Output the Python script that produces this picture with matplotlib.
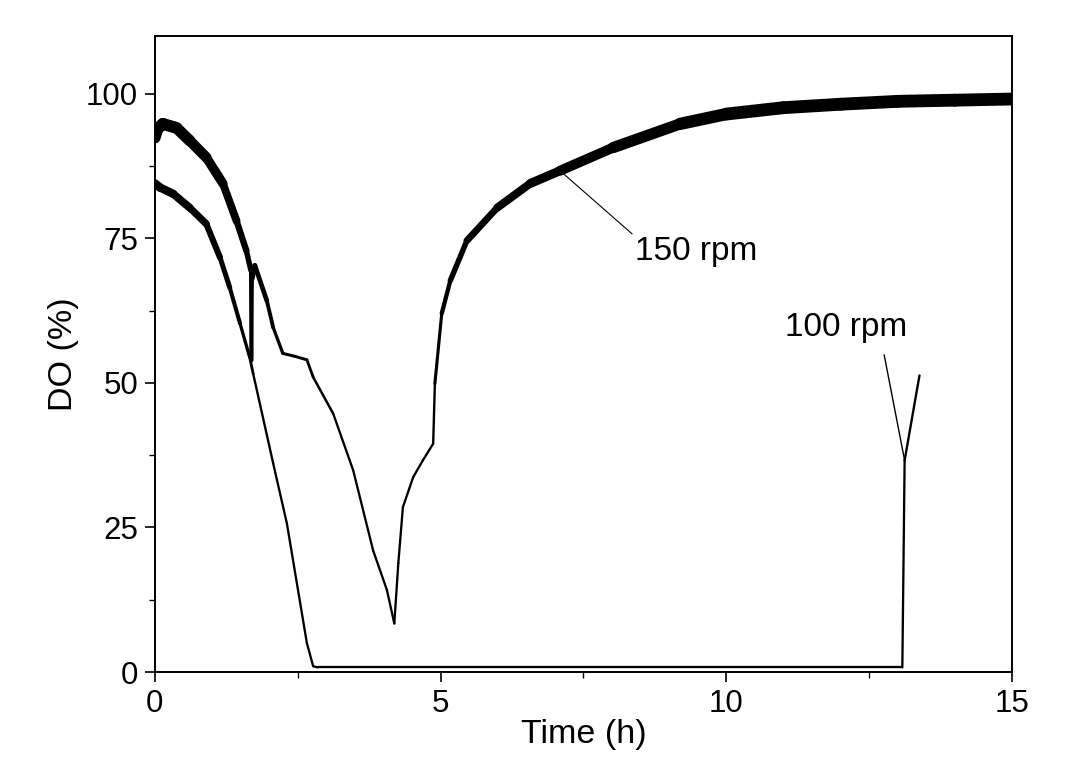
import matplotlib
matplotlib.use('Agg')
import matplotlib.pyplot as plt
import numpy as np
from matplotlib.collections import LineCollection
from matplotlib.ticker import MultipleLocator

# Curva 150 rpm
t_150 = [0.0, 0.05, 0.14, 0.38, 0.61, 0.9, 1.19, 1.43, 1.6, 1.68, 1.69, 1.70, 1.75,
         1.96, 2.07, 2.24, 2.45, 2.66, 2.77, 3.12, 3.47, 3.82, 4.06, 4.19, 4.26,
         4.34, 4.52, 4.69, 4.87, 4.9, 5.02, 5.17, 5.46, 5.99, 6.57, 7.09, 8.02,
         9.19, 10.0, 11.0, 12.0, 13.0, 14.0, 15.0]
do_150 = [92.4, 94.0, 94.8, 94.1, 91.9, 89.0, 84.5, 78.0, 72.9, 69.5, 53.9, 68.0, 70.3,
          64.2, 59.6, 55.1, 54.6, 54.0, 51.0, 44.7, 34.9, 21.0, 14.2, 8.4, 18.8,
          28.5, 33.7, 36.6, 39.5, 49.9, 62.0, 67.7, 74.6, 80.3, 84.5, 86.7, 90.7,
          94.8, 96.5, 97.6, 98.2, 98.7, 98.9, 99.1]

# Curva 100 rpm
t_100 = [0.0, 0.09, 0.32, 0.61, 0.9, 1.14, 1.31, 1.49, 1.66, 1.72, 2.07, 2.31,
         2.66, 2.77, 2.85, 3.0, 13.08, 13.12, 13.38]
do_100 = [84.5, 83.8, 82.7, 80.3, 77.5, 71.7, 66.5, 60.3, 54.4, 51.6, 36.1, 25.7,
          5.0, 1.0, 0.8, 0.8, 0.8, 36.6, 51.3]

plt.rcParams['font.family'] = ['Liberation Sans', 'DejaVu Sans']


def banda(t, y):
    # o ruído do sensor engrossa a linha quando o OD é alto
    pts = np.column_stack([t, y])
    seg = np.stack([pts[:-1], pts[1:]], axis=1)
    y = np.asarray(y)
    ym = (y[:-1] + y[1:]) / 2
    larg = 2.3 + 10.5 * np.clip((ym - 40) / 57, 0, 1) ** 2  # em pixels
    return LineCollection(seg, linewidths=larg * 72 / 100, colors='black',
                          capstyle='round', joinstyle='round')


fig = plt.figure(figsize=(10.83, 7.66), dpi=100)
ax = fig.add_axes([0.143, 0.1227, 0.7915, 0.8303])

ax.add_collection(banda(t_150, do_150))
ax.add_collection(banda(t_100, do_100))

ax.set_xlim(0, 15)
ax.set_ylim(0, 110)
ax.xaxis.set_major_locator(MultipleLocator(5))
ax.xaxis.set_minor_locator(MultipleLocator(2.5))
ax.yaxis.set_major_locator(MultipleLocator(25))
ax.yaxis.set_minor_locator(MultipleLocator(12.5))
ax.tick_params(which='major', direction='out', length=7, width=1.2, labelsize=22.5, pad=5)
ax.tick_params(which='minor', direction='out', length=4, width=1.0)
for s in ax.spines.values():
    s.set_linewidth(1.4)

ax.set_xlabel('Time (h)', fontsize=24.5, labelpad=0)
ax.set_ylabel('DO (%)', fontsize=24.5, labelpad=5)

i150 = t_150.index(7.09)
ax.annotate('150 rpm', xy=(t_150[i150], do_150[i150]), xytext=(8.4, 71.2),
            fontsize=24, ha='left', va='baseline',
            arrowprops=dict(arrowstyle='-', color='black', lw=0.8,
                            relpos=(0, 1), shrinkA=0, shrinkB=0))
i100 = t_100.index(13.12)
ax.annotate('100 rpm', xy=(t_100[i100], do_100[i100]), xytext=(11.03, 58.2),
            fontsize=24, ha='left', va='baseline',
            arrowprops=dict(arrowstyle='-', color='black', lw=1.0,
                            relpos=(0.79, 0), shrinkA=7, shrinkB=0))

fig.savefig('out.png', dpi=100)
